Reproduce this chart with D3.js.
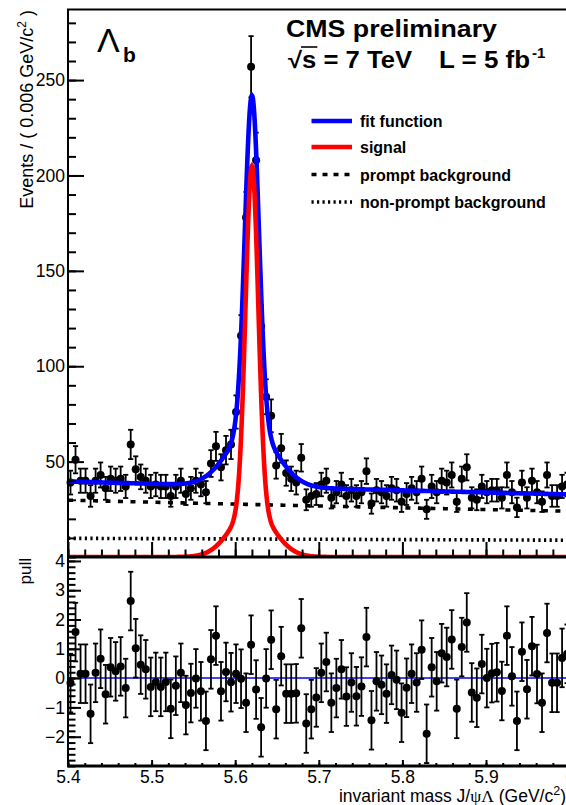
<!DOCTYPE html>
<html>
<head>
<meta charset="utf-8">
<script src="https://cdn.jsdelivr.net/npm/d3@7"></script>
<style>
  html, body { margin: 0; padding: 0; background: #fff; overflow: hidden; }
  text { font-family: "Liberation Sans", Arial, Helvetica, sans-serif; fill: #000; }
</style>
</head>
<body>
<script>
// histogram binning (0.006 GeV bins from 5.4 to 6.0)
const binLow = 5.4;
const binWidth = 0.006;

// events per bin
const counts = [
  39, 51, 40, 40, 32, 40, 43, 36, 41, 40,
  41, 37, 59, 46, 42, 40, 37, 38, 37, 37,
  32, 37, 40, 33, 36, 40, 38, 34, 49, 58,
  47, 56, 59, 76, 116, 178, 257, 208, 121, 84,
  74, 48, 57, 44, 41, 39, 52, 30, 32, 33,
  38, 40, 31, 34, 38, 32, 35, 32, 34, 45,
  28, 35, 34, 32, 36, 35, 29, 33, 36, 34,
  41, 25, 37, 34, 40, 39, 43, 29, 41, 47,
  31, 30, 37, 34, 35, 35, 31, 43, 34, 26,
  39, 31, 40, 34, 29, 43, 32, 32, 37, 38
];

// pulls per bin
const pulls = [
  -0.17, 1.57, 0.15, 0.15, -1.22, 0.18, 0.66, -0.55, 0.37, 0.23,
  0.40, -0.34, 2.63, 1.02, 0.46, 0.30, -0.30, -0.13, -0.30, -0.13,
  -1.05, -0.26, 0.18, -0.92, -0.51, -0.01, -0.45, -1.46, 0.64, 1.45,
  -0.45, 0.21, -0.14, 0.15, -0.02, -0.84, 1.14, -0.39, -1.68, -0.01,
  1.31, -1.06, 0.75, -0.53, -0.53, -0.52, 1.70, -1.55, -1.06, -0.66,
  0.18, 0.55, -0.84, -0.34, 0.30, -0.63, -0.15, -0.62, -0.29, 1.40,
  -1.44, -0.11, -0.23, -0.53, 0.11, -0.06, -1.18, -0.33, 0.15, -0.15,
  0.97, -1.90, 0.37, -0.11, 0.85, 0.72, 1.32, -1.05, 1.06, 1.90,
  -0.49, -0.67, 0.48, 0.00, 0.17, 0.20, -0.44, 1.45, 0.06, -1.46,
  0.90, -0.38, 1.09, 0.14, -0.84, 1.54, -0.16, -0.16, 0.69, 0.83
];

// fit curves: peak position, [amplitude, width] of the gaussians, backgrounds
const peakMass = 5.62;
const signalCore = [180, 0.00756];
const signalTail = [25, 0.0249];
const fitCore = [175, 0.00837];
const fitTail = [30, 0.0287];
const promptBkg = [29.8, 24.0];     // value at 5.4, at 6.0 (exponential)
const nonPromptBkg = [9.8, 8.8];    // value at 5.4, at 6.0 (linear)

// axes
const xTicks = [5.4, 5.5, 5.6, 5.7, 5.8, 5.9, 6.0];
const xTickLabels = ['5.4', '5.5', '5.6', '5.7', '5.8', '5.9', '6'];
const yTicks = [50, 100, 150, 200, 250];
const pullTicks = [-2, -1, 0, 1, 2, 3, 4];
const legendLabels = ['fit function', 'signal', 'prompt background', 'non-prompt background'];

const W = 566, H = 805;
const frame = { left: 68, right: 569.6, top: 9.5, mid: 557, bottom: 766 };

const svg = d3.select('body').append('svg')
  .attr('width', W)
  .attr('height', H);

const x = d3.scaleLinear().domain([5.4, 6.0]).range([frame.left, frame.right]);
const y = d3.scaleLinear().domain([0, 287]).range([frame.mid, frame.top]);
const yp = d3.scaleLinear().domain([-3, 4.1]).range([frame.bottom, frame.mid + 1]);

const bins = counts.map((c, i) => ({
  m: binLow + binWidth * (i + 0.5),
  n: c,
  pull: pulls[i]
}));

// fit model
const gaus = (m, p) => p[0] * Math.exp(-0.5 * ((m - peakMass) / p[1]) ** 2);
const prompt = m => promptBkg[0] * Math.pow(promptBkg[1] / promptBkg[0], (m - 5.4) / 0.6);
const nonPrompt = m => nonPromptBkg[0] + (nonPromptBkg[1] - nonPromptBkg[0]) * (m - 5.4) / 0.6;
const signal = m => gaus(m, signalCore) + gaus(m, signalTail);
const fitTotal = m => prompt(m) + nonPrompt(m) + gaus(m, fitCore) + gaus(m, fitTail);
const grid = d3.range(5.4, 6.00001, 0.0004);

svg.append('clipPath').attr('id', 'topclip')
  .append('rect')
  .attr('x', frame.left).attr('y', frame.top)
  .attr('width', frame.right - frame.left).attr('height', frame.mid - frame.top);

// error bar + marker helper
const capW = 2.6;
const drawPoint = (g, cx, cy, lo, hi) => {
  g.append('line')
    .attr('x1', cx).attr('x2', cx).attr('y1', lo).attr('y2', hi)
    .attr('stroke', '#000').attr('stroke-width', 1.8);
  [lo, hi].forEach(v => {
    g.append('line')
      .attr('x1', cx - capW).attr('x2', cx + capW).attr('y1', v).attr('y2', v)
      .attr('stroke', '#000').attr('stroke-width', 1.8);
  });
  g.append('circle').attr('cx', cx).attr('cy', cy).attr('r', 4).attr('fill', '#000');
};

// ---- upper panel data ----
const dataG = svg.append('g');
bins.forEach(b => {
  const err = Math.sqrt(b.n);
  drawPoint(dataG, x(b.m), y(b.n), y(b.n - err), y(b.n + err));
});

// ---- curves ----
const curveG = svg.append('g').attr('clip-path', 'url(#topclip)');
const line = fn => d3.line().x(m => x(m)).y(m => y(fn(m)))(grid);

curveG.append('path').attr('d', line(nonPrompt))
  .attr('fill', 'none').attr('stroke', '#000').attr('stroke-width', 3.6)
  .attr('stroke-dasharray', '2.2,3.4');
curveG.append('path').attr('d', line(prompt))
  .attr('fill', 'none').attr('stroke', '#000').attr('stroke-width', 3.6)
  .attr('stroke-dasharray', '5,7.5');
curveG.append('path').attr('d', line(fitTotal))
  .attr('fill', 'none').attr('stroke', '#0000ff').attr('stroke-width', 4.6);
curveG.append('path').attr('d', line(signal))
  .attr('fill', 'none').attr('stroke', '#ff0000').attr('stroke-width', 4.6);

// ---- lower panel (pulls) ----
const pullG = svg.append('g');
pullG.append('line')
  .attr('x1', frame.left).attr('x2', frame.right)
  .attr('y1', yp(0)).attr('y2', yp(0))
  .attr('stroke', '#0000ff').attr('stroke-width', 1.5);
bins.forEach(b => {
  drawPoint(pullG, x(b.m), yp(b.pull), yp(b.pull - 1), yp(b.pull + 1));
});

// ---- axes ----
const styleAxis = g => {
  g.select('.domain').remove();
  g.selectAll('.tick line').attr('stroke', '#000').attr('stroke-width', 2);
  g.selectAll('.tick text')
    .attr('font-family', '"Liberation Sans", Arial, sans-serif')
    .attr('font-size', 17.5).attr('fill', '#000');
  g.attr('font-family', null).attr('font-size', null);
};

// upper y
svg.append('g').attr('transform', `translate(${frame.left},0)`)
  .call(d3.axisLeft(y).tickValues(d3.range(0, 287, 10)).tickSize(-8).tickFormat(''))
  .call(styleAxis);
svg.append('g').attr('transform', `translate(${frame.left},0)`)
  .call(d3.axisLeft(y).tickValues(yTicks).tickSizeInner(-16).tickSizeOuter(0).tickPadding(3))
  .call(styleAxis);

// upper x (ticks only)
const xMinor = d3.range(5.4, 6.0001, 0.02);
svg.append('g').attr('transform', `translate(0,${frame.mid})`)
  .call(d3.axisBottom(x).tickValues(xMinor).tickSize(-7.5).tickFormat(''))
  .call(styleAxis);
svg.append('g').attr('transform', `translate(0,${frame.mid})`)
  .call(d3.axisBottom(x).tickValues(xTicks).tickSize(-15).tickFormat(''))
  .call(styleAxis);

// pull y
svg.append('g').attr('transform', `translate(${frame.left},0)`)
  .call(d3.axisLeft(yp).tickValues(d3.range(-3, 4.11, 0.2)).tickSize(-7.5).tickFormat(''))
  .call(styleAxis);
svg.append('g').attr('transform', `translate(${frame.left},0)`)
  .call(d3.axisLeft(yp).tickValues(pullTicks).tickSizeInner(-13).tickSizeOuter(0).tickPadding(3))
  .call(styleAxis);

// pull x with labels
svg.append('g').attr('transform', `translate(0,${frame.bottom})`)
  .call(d3.axisBottom(x).tickValues(xMinor).tickSize(-3).tickFormat(''))
  .call(styleAxis);
svg.append('g').attr('transform', `translate(0,${frame.bottom})`)
  .call(d3.axisBottom(x).tickValues(xTicks).tickSizeInner(-6).tickSizeOuter(0).tickPadding(5)
    .tickFormat((d, i) => xTickLabels[i]))
  .call(styleAxis);

// frames
const frameG = svg.append('g').attr('stroke', '#000').attr('fill', 'none');
frameG.append('path')
  .attr('d', `M${frame.left},${frame.mid}V${frame.top}H${frame.right}V${frame.mid}`)
  .attr('stroke-width', 2);
frameG.append('path')
  .attr('d', `M${frame.left},${frame.mid}V${frame.bottom}H${frame.right}V${frame.mid}`)
  .attr('stroke-width', 2);
frameG.append('line')
  .attr('x1', frame.left - 1).attr('x2', frame.right)
  .attr('y1', frame.mid).attr('y2', frame.mid)
  .attr('stroke-width', 3);
frameG.append('line')
  .attr('x1', frame.left - 1).attr('x2', frame.right)
  .attr('y1', frame.bottom).attr('y2', frame.bottom)
  .attr('stroke-width', 3);

// ---- titles ----
const yTitle = svg.append('text')
  .attr('transform', 'translate(33,10) rotate(-90)')
  .attr('text-anchor', 'end')
  .attr('font-size', 18);
yTitle.append('tspan').text('Events / ( 0.006 GeV/c');
yTitle.append('tspan').attr('dy', -7).attr('font-size', 12).text('2');
yTitle.append('tspan').attr('dy', 7).text(' )');

svg.append('text')
  .attr('transform', 'translate(31,558) rotate(-90)')
  .attr('text-anchor', 'end')
  .attr('font-size', 17)
  .text('pull');

const xTitle = svg.append('text')
  .attr('x', 566).attr('y', 802)
  .attr('text-anchor', 'end')
  .attr('font-size', 17.5);
xTitle.append('tspan').text('invariant mass J/');
xTitle.append('tspan').attr('font-family', '"Liberation Serif", serif').text('ψΛ');
xTitle.append('tspan').text(' (GeV/c');
xTitle.append('tspan').attr('dy', -7).attr('font-size', 12.5).text('2');
xTitle.append('tspan').attr('dy', 7).text(')');

// Lambda_b label
svg.append('text')
  .attr('x', 97).attr('y', 52)
  .attr('font-family', '"Liberation Serif", "Times New Roman", serif')
  .attr('font-size', 34)
  .text('Λ');
svg.append('text')
  .attr('x', 123).attr('y', 62)
  .attr('font-weight', 'bold')
  .attr('font-size', 21)
  .text('b');

// CMS header
svg.append('text')
  .attr('x', 286).attr('y', 37)
  .attr('font-weight', 'bold').attr('font-size', 23)
  .attr('textLength', 211).attr('lengthAdjust', 'spacingAndGlyphs')
  .text('CMS preliminary');

const rootS = svg.append('text')
  .attr('x', 288).attr('y', 68)
  .attr('font-weight', 'bold').attr('font-size', 23)
  .attr('textLength', 124).attr('lengthAdjust', 'spacingAndGlyphs')
  .text('√s = 7 TeV');
const sNode = rootS.node();
const s0 = sNode.getStartPositionOfChar(1).x;
const s1 = sNode.getEndPositionOfChar(1).x;
svg.append('line')
  .attr('x1', s0 - 1).attr('x2', s1 + 1)
  .attr('y1', 47).attr('y2', 47)
  .attr('stroke', '#000').attr('stroke-width', 1.6);

svg.append('text')
  .attr('x', 439).attr('y', 68)
  .attr('font-weight', 'bold').attr('font-size', 23)
  .attr('textLength', 91).attr('lengthAdjust', 'spacingAndGlyphs')
  .text('L = 5 fb');
svg.append('text')
  .attr('x', 532).attr('y', 58)
  .attr('font-weight', 'bold').attr('font-size', 15)
  .text('-1');

// ---- legend ----
const legendStyles = [
  { stroke: '#0000ff', width: 4.5, dash: null },
  { stroke: '#ff0000', width: 4.5, dash: null },
  { stroke: '#000', width: 3.6, dash: '5,6' },
  { stroke: '#000', width: 3.6, dash: '2.2,3.3' }
];
const legendY = [121, 147, 174.5, 202];
const legend = svg.append('g');
legendLabels.forEach((label, i) => {
  const st = legendStyles[i];
  legend.append('line')
    .attr('x1', 311.5).attr('x2', 352)
    .attr('y1', legendY[i]).attr('y2', legendY[i])
    .attr('stroke', st.stroke).attr('stroke-width', st.width)
    .attr('stroke-dasharray', st.dash);
  legend.append('text')
    .attr('x', 360).attr('y', legendY[i] + 6)
    .attr('font-weight', 'bold').attr('font-size', 16)
    .text(label);
});
</script>
</body>
</html>
